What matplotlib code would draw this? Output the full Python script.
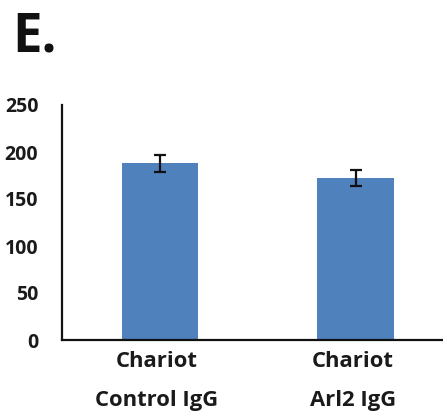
import matplotlib
matplotlib.use("Agg")
import matplotlib.pyplot as plt
import matplotlib.transforms as mtransforms

categories = ["Chariot\nControl IgG", "Chariot\nArl2 IgG"]
values = [188, 172]
errors = [9, 8.5]
yticks = [0, 50, 100, 150, 200, 250]

plt.rcParams['font.family'] = ['Open Sans', 'DejaVu Sans']

fig = plt.figure(figsize=(4.43, 4.12), dpi=100)
ax = fig.add_axes([62/443, 72/412, (453.5-62)/443, (340-105)/412])
x = list(range(len(categories)))
ax.bar(x, values, width=0.39, color='#4F81BD', zorder=2)
ax.errorbar(x, values, yerr=errors, fmt='none', ecolor='#111111',
            elinewidth=1.6, capsize=4.5, capthick=1.6, zorder=3)
ax.set_xlim(-0.5, 1.5)
ax.set_ylim(0, 250)
ax.set_yticks(yticks)
ax.set_yticklabels([str(t) for t in yticks], fontsize=14, fontweight='bold', color='#1a1a1a')
ax.set_xticks(x)
ax.set_xticklabels(categories, fontsize=15.8, fontweight='bold', color='#1a1a1a', linespacing=2.1)
ax.tick_params(axis='y', length=0, pad=17)
ax.tick_params(axis='x', length=0, pad=8)
offset = mtransforms.ScaledTranslation(-3/100, 0, fig.dpi_scale_trans)
for lbl in ax.get_xticklabels():
    lbl.set_transform(lbl.get_transform() + offset)
for s in ['top', 'right']:
    ax.spines[s].set_visible(False)
for s in ['left', 'bottom']:
    ax.spines[s].set_linewidth(1.6)
    ax.spines[s].set_color('#111111')

fig.text(12/443, 1 - 52/412, "E.", fontsize=38, fontweight='bold', color='#111111',
         ha='left', va='baseline')

fig.savefig("out.png", dpi=100)
